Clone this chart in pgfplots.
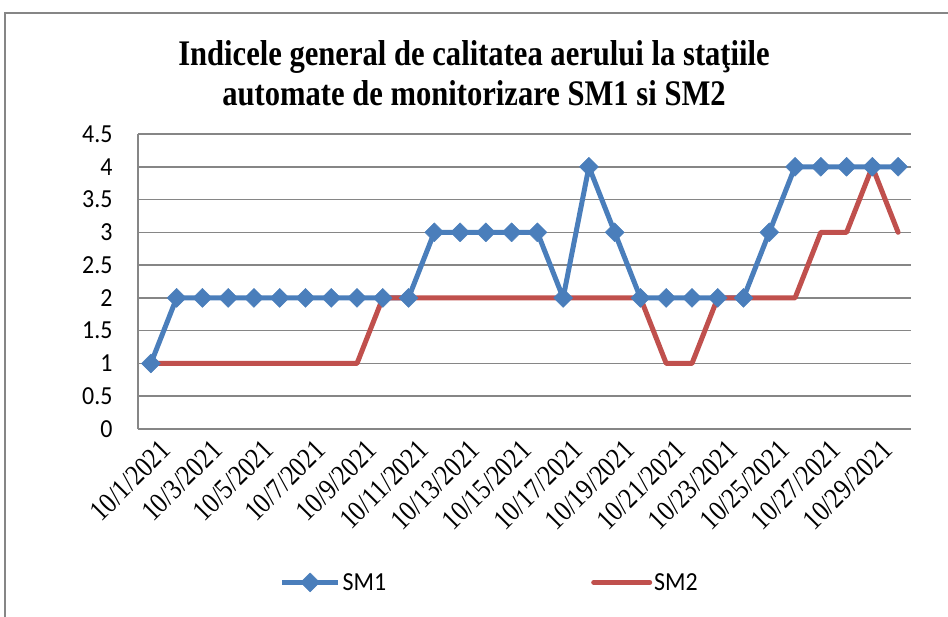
\documentclass[border=0pt]{standalone}
\usepackage{pgfplots}
\pgfplotsset{compat=1.18}
\usepackage{pgfplotstable}
\usepackage{fontspec}
\setmainfont{Liberation Serif}[FakeStretch=0.85]
\newfontfamily\calfont{Carlito}[FakeStretch=0.92]
\newfontfamily\tickserif{Liberation Serif}[FakeStretch=0.85]
\definecolor{smblue}{HTML}{4A7EBB}
\definecolor{smred}{HTML}{C0504D}
\definecolor{gridgray}{HTML}{868686}
\pgfplotstableread{
x sm1 sm2
0 1 1
1 2 1
2 2 1
3 2 1
4 2 1
5 2 1
6 2 1
7 2 1
8 2 1
9 2 2
10 2 2
11 3 2
12 3 2
13 3 2
14 3 2
15 3 2
16 2 2
17 4 2
18 3 2
19 2 2
20 2 1
21 2 1
22 2 2
23 2 2
24 3 2
25 4 2
26 4 3
27 4 3
28 4 4
29 4 3
}\datatable
\begin{document}
\begin{tikzpicture}
\path[use as bounding box] (0,0) rectangle (948bp,-617bp);
\draw[gridgray, line width=1.5bp] (5bp,-617bp) -- (5bp,-13bp) -- (948bp,-13bp);
\node[align=center, font=\bfseries\fontsize{36bp}{40bp}\selectfont] at (474bp,-73bp)
  {Indicele general de calitatea aerului la staţiile\\automate de monitorizare SM1 si SM2};
\begin{axis}[
  at={(138bp,-429bp)}, anchor=south west,
  scale only axis, width=773bp, height=295bp,
  xmin=-0.5, xmax=29.5, ymin=0, ymax=4.5,
  ytick={0,0.5,...,4.5},
  xtick={0,2,...,28},
  xticklabels={{\tickserif\fontsize{29bp}{29bp}\selectfont 10/1/2021},{\tickserif\fontsize{29bp}{29bp}\selectfont 10/3/2021},{\tickserif\fontsize{29bp}{29bp}\selectfont 10/5/2021},{\tickserif\fontsize{29bp}{29bp}\selectfont 10/7/2021},{\tickserif\fontsize{29bp}{29bp}\selectfont 10/9/2021},{\tickserif\fontsize{29bp}{29bp}\selectfont 10/11/2021},{\tickserif\fontsize{29bp}{29bp}\selectfont 10/13/2021},{\tickserif\fontsize{29bp}{29bp}\selectfont 10/15/2021},{\tickserif\fontsize{29bp}{29bp}\selectfont 10/17/2021},{\tickserif\fontsize{29bp}{29bp}\selectfont 10/19/2021},{\tickserif\fontsize{29bp}{29bp}\selectfont 10/21/2021},{\tickserif\fontsize{29bp}{29bp}\selectfont 10/23/2021},{\tickserif\fontsize{29bp}{29bp}\selectfont 10/25/2021},{\tickserif\fontsize{29bp}{29bp}\selectfont 10/27/2021},{\tickserif\fontsize{29bp}{29bp}\selectfont 10/29/2021}},
  /pgf/number format/assume math mode=true,
  axis x line*=bottom, axis y line*=left,
  axis line style={gridgray, line width=1.5bp, -},
  major tick length=0pt,
  ymajorgrids, grid style={gridgray, line width=1.5bp},
  every y tick label/.append style={font=\calfont\fontsize{26bp}{26bp}\selectfont, xshift=-22bp},
  every x tick label/.append style={rotate=45, anchor=east, yshift=-22bp, xshift=0bp, inner sep=1bp},
  legend columns=2,
  legend style={at={(0.455,-0.52)}, anchor=center, draw=none, fill=none,
    font=\calfont\fontsize{26bp}{26bp}\selectfont,
    /tikz/every even column/.append style={column sep=203bp}},
  legend image code/.code={\draw[mark repeat=2,mark phase=2,#1] plot coordinates {(0bp,0bp) (28bp,0bp) (56bp,0bp)};},
  clip=false,
]
\addplot[smblue, line width=5bp, line join=round, mark=square*, mark size=6.7bp, mark options={rotate=45, solid, fill=smblue, draw=smblue, line width=0.5bp}] table[x=x, y=sm1] {\datatable};
\addlegendentry{SM1}
\addplot[smred, line width=5bp, line join=round, line cap=round] table[x=x, y=sm2] {\datatable};
\addlegendentry{SM2}
\end{axis}
\end{tikzpicture}
\end{document}
